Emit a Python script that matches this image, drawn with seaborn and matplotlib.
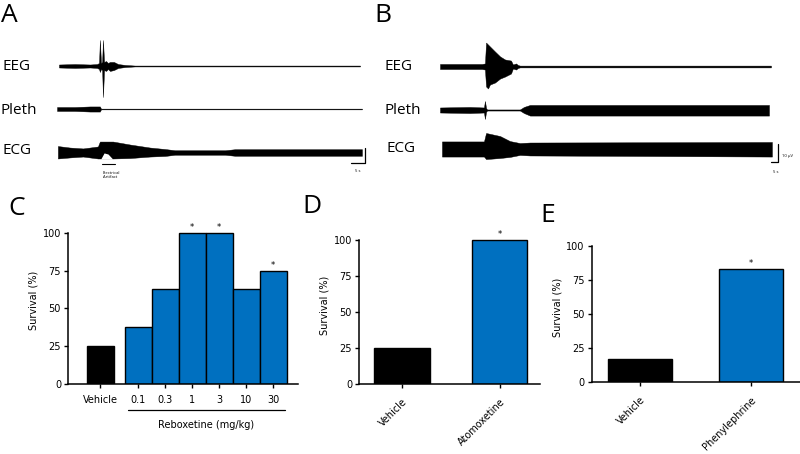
import numpy as np
import pandas as pd
import matplotlib
matplotlib.use('Agg')
import matplotlib.pyplot as plt
import seaborn as sns

# ------------------------------------------------------------
# Data : trace envelopes (time in s, half-amplitude in µV above / below baseline)
# ------------------------------------------------------------
a_eeg_t = [0, 5.7, 11.1, 13.6, 14.3, 14.6, 15.0, 15.4, 15.7, 16.1, 16.8, 17.5, 18.2, 19.6, 21.1, 23.6, 27.1, 107.5]
a_eeg_up = [1, 1.3, 1, 1.3, 2, 17.3, 2, 2.7, 17.3, 2.7, 3.3, 2, 2.7, 2.7, 1.3, 0.7, 0.3, 0.3]
a_eeg_lo = [1, 1.3, 1, 1.3, 2, 4, 2, 2.7, 20.7, 2.7, 3.3, 2, 3.3, 2.7, 1.3, 0.7, 0.3, 0.3]

a_pleth_t = [-0.7, 5.7, 11.1, 14.6, 15.0, 108.2]
a_pleth_up = [1.3, 1.3, 1.7, 1.7, 0.25, 0.25]
a_pleth_lo = [1.3, 1.3, 1.7, 1.7, 0.25, 0.25]

a_ecg_t = [-0.4, 3.9, 8.6, 13.9, 14.6, 19.3, 25.4, 32.5, 37.9, 41.4, 50.4, 59.3, 62.9, 108.2]
a_ecg_up = [4.3, 3.3, 2.7, 4, 7.3, 7.3, 5.3, 3.3, 2.3, 1.5, 1.5, 1.5, 2.2, 2.2]
a_ecg_lo = [4, 3.3, 2.7, 4, 4, 4, 3.7, 2.7, 2.3, 1.5, 1.5, 1.5, 2.2, 2.2]
# white gap left in the ECG by the electrical artifact
a_notch_t = [15.0, 16.1, 17.5, 19.0]
a_notch_top = [-4, -0.3, -1.0, -4]
a_artifact_t = [15.4, 20.0]

b_eeg_t = [0, 14.3, 30, 32.1, 32.9, 34.3, 35.7, 39.3, 42.9, 46.4, 50.7, 52.1, 54.3, 55.7, 57.1, 236.4]
b_eeg_up = [1.4, 1.4, 1.4, 1.7, 13.3, 12.2, 11.1, 8.3, 5.6, 3.9, 3.3, 1.1, 1.7, 0.8, 0.5, 0.5]
b_eeg_lo = [1.4, 1.4, 1.4, 1.7, 11.1, 12.2, 10, 8.9, 6.7, 5.6, 3.9, 1.1, 1.7, 0.8, 0.5, 0.5]

b_pleth_t = [0, 21.4, 31.4, 32.1, 32.9, 33.6, 57.1, 60, 64.3, 234.3, 235]
b_pleth_up = [1.4, 1.7, 1.4, 5, 1.1, 0.3, 0.3, 1.7, 2.8, 2.8, 2.8]
b_pleth_lo = [1.4, 1.7, 1.4, 5, 1.1, 0.3, 0.3, 1.7, 3.1, 3.1, 3.1]

b_ecg_t = [1.4, 31.4, 32.9, 42.9, 50, 57.1, 64.3, 237.1]
b_ecg_up = [4.2, 4.2, 8.9, 7.2, 4.4, 3.3, 3.6, 3.9]
b_ecg_lo = [4.2, 4.2, 5.6, 5.0, 4.4, 3.3, 3.6, 4.2]

# ------------------------------------------------------------
# Data : survival bar charts
# ------------------------------------------------------------
c_labels = ['Vehicle', '0.1', '0.3', '1', '3', '10', '30']
c_group = ['Vehicle', 'Reboxetine', 'Reboxetine', 'Reboxetine', 'Reboxetine', 'Reboxetine', 'Reboxetine']
c_survival = [25, 37.5, 62.5, 100, 100, 62.5, 75]
c_signif = [False, False, False, True, True, False, True]

d_labels = ['Vehicle', 'Atomoxetine']
d_survival = [25, 100]
d_signif = [False, True]

e_labels = ['Vehicle', 'Phenylephrine']
e_survival = [16.7, 83.3]
e_signif = [False, True]

BLUE = '#0070C0'
BAR_FONT = ['DejaVu Sans']

# ------------------------------------------------------------
# Figure
# ------------------------------------------------------------
sns.set_style('ticks')
plt.rcParams['font.family'] = ['Open Sans', 'DejaVu Sans']
plt.rcParams.update({'text.color': 'black', 'axes.labelcolor': 'black',
                     'xtick.color': 'black', 'ytick.color': 'black',
                     'axes.edgecolor': 'black'})

W, H = 800, 454
fig = plt.figure(figsize=(W / 100, H / 100), dpi=100)


def px_axes(x0, y0, x1, y1):
    return fig.add_axes([x0 / W, 1 - y1 / H, (x1 - x0) / W, (y1 - y0) / H])


def px_text(x, y, s, **kw):
    fig.text(x / W, 1 - y / H, s, **kw)


def trace(ax, t, up, lo, base):
    t = np.asarray(t)
    ax.fill_between(t, base + np.asarray(up), base - np.asarray(lo),
                    color='black', linewidth=0.3)


# ---------------- Panel A : traces ----------------
x0a, pxs_a, pxuv_a = 59, 2.8, 1.5
ax_a = px_axes(50, 25, 380, 185)
ax_a.set_xlim((50 - x0a) / pxs_a, (380 - x0a) / pxs_a)
ax_a.set_ylim(0, 160 / pxuv_a)
ax_a.axis('off')
base_a = {k: (185 - cy) / pxuv_a for k, cy in [('eeg', 66), ('pleth', 109), ('ecg', 152.5)]}
trace(ax_a, a_eeg_t, a_eeg_up, a_eeg_lo, base_a['eeg'])
trace(ax_a, a_pleth_t, a_pleth_up, a_pleth_lo, base_a['pleth'])
trace(ax_a, a_ecg_t, a_ecg_up, a_ecg_lo, base_a['ecg'])
ax_a.fill_between(a_notch_t, base_a['ecg'] + np.array(a_notch_top),
                  base_a['ecg'] - 4.4, color='white', linewidth=0)
ax_a.plot(a_artifact_t, [(185 - 164) / pxuv_a] * 2, color='black', lw=0.8)
# scale bar (5 s, 10 µV)
ta, ya = (365 - x0a) / pxs_a, (185 - 163) / pxuv_a
ax_a.plot([ta - 5, ta, ta], [ya, ya, ya + 10], color='black', lw=0.9)

px_text(1, 3, 'A', fontsize=19, va='top')
px_text(2, 67, 'EEG', fontsize=11, va='center')
px_text(1, 110, 'Pleth', fontsize=11, va='center')
px_text(3, 150, 'ECG', fontsize=11, va='center')
px_text(103, 175, 'Electrical\nArtifact', fontsize=3, va='center', linespacing=1.3)
px_text(358, 171, '5 s', fontsize=3, ha='center', va='center')

# ---------------- Panel B : traces ----------------
x0b, pxs_b, pxuv_b = 440, 1.4, 1.8
ax_b = px_axes(430, 25, 800, 185)
ax_b.set_xlim((430 - x0b) / pxs_b, (800 - x0b) / pxs_b)
ax_b.set_ylim(0, 160 / pxuv_b)
ax_b.axis('off')
base_b = {k: (185 - cy) / pxuv_b for k, cy in [('eeg', 66.5), ('pleth', 110), ('ecg', 149)]}
trace(ax_b, b_eeg_t, b_eeg_up, b_eeg_lo, base_b['eeg'])
trace(ax_b, b_pleth_t, b_pleth_up, b_pleth_lo, base_b['pleth'])
trace(ax_b, b_ecg_t, b_ecg_up, b_ecg_lo, base_b['ecg'])
tb, yb = (778 - x0b) / pxs_b, (185 - 162) / pxuv_b
ax_b.plot([tb - 5, tb, tb], [yb, yb, yb + 10], color='black', lw=0.9)

px_text(374, 3, 'B', fontsize=19, va='top')
px_text(385, 67, 'EEG', fontsize=11, va='center')
px_text(385, 111, 'Pleth', fontsize=11, va='center')
px_text(386, 148, 'ECG', fontsize=11, va='center')
px_text(782, 156, '10 µV', fontsize=3, va='center')
px_text(776, 172, '5 s', fontsize=3, ha='center', va='center')


# ---------------- bar chart helpers ----------------
def style_bar_axes(ax):
    ax.set_ylim(0, 110)
    ax.set_yticks([0, 25, 50, 75, 100])
    ax.spines['left'].set_bounds(0, 100)
    for s in ['top', 'right']:
        ax.spines[s].set_visible(False)
    for s in ['left', 'bottom']:
        ax.spines[s].set_linewidth(1.1)
    ax.tick_params(direction='out', length=3, width=1.0, labelsize=7, pad=2)
    ax.set_ylabel('Survival (%)', fontsize=7, labelpad=3, family=BAR_FONT)
    ax.set_xlabel('')
    for lab in ax.get_yticklabels():
        lab.set_family(BAR_FONT)


def stars(ax, xs, vals, sig):
    for x, v, s in zip(xs, vals, sig):
        if s:
            ax.text(x, v + 3.5, '*', ha='center', va='center', fontsize=6, family=BAR_FONT)


# ---------------- Panel C ----------------
c_pos = [0] + [1.4 + i for i in range(len(c_labels) - 1)]
ax_c = px_axes(68, 384 - 151.3 * 1.1, 298, 384)
df_c = pd.DataFrame({'pos': c_pos, 'survival': c_survival, 'group': c_group})
sns.barplot(data=df_c, x='pos', y='survival', hue='group', dodge=False,
            palette={'Vehicle': 'black', 'Reboxetine': BLUE}, native_scale=True,
            width=1.0, saturation=1, edgecolor='black', linewidth=1.0, errorbar=None,
            legend=False, ax=ax_c)
ax_c.set_xlim(-1.2, 7.32)
ax_c.set_xticks(c_pos, c_labels, family=BAR_FONT)
style_bar_axes(ax_c)
ax_c.tick_params(axis='x', pad=5)
stars(ax_c, c_pos, c_survival, c_signif)
ax_c.plot([c_pos[1] - 0.38, c_pos[-1] + 0.45], [-0.156, -0.156], color='black', lw=0.9,
          transform=ax_c.get_xaxis_transform(), clip_on=False)
ax_c.text((c_pos[1] + c_pos[-1]) / 2, -0.245, 'Reboxetine (mg/kg)', fontsize=7,
          ha='center', va='center', family=BAR_FONT, transform=ax_c.get_xaxis_transform())
px_text(8, 196, 'C', fontsize=19, va='top')

# ---------------- Panel D ----------------
ax_d = px_axes(359, 384.3 - 144.3 * 1.1, 540, 384.3)
df_d = pd.DataFrame({'drug': d_labels, 'survival': d_survival})
sns.barplot(data=df_d, x='drug', y='survival', hue='drug', palette=['black', BLUE],
            width=0.57, saturation=1, edgecolor='black', linewidth=1.0, errorbar=None,
            legend=False, ax=ax_d)
ax_d.set_xlim(-0.44, 1.415)
ax_d.set_xticks([0, 1], d_labels, rotation=45, ha='right', rotation_mode='anchor',
                family=BAR_FONT)
style_bar_axes(ax_d)
ax_d.tick_params(axis='x', pad=6)
stars(ax_d, [0, 1], d_survival, d_signif)
px_text(302, 194, 'D', fontsize=19, va='top')

# ---------------- Panel E ----------------
ax_e = px_axes(591.7, 382.3 - 136.6 * 1.1, 800, 382.3)
df_e = pd.DataFrame({'drug': e_labels, 'survival': e_survival})
sns.barplot(data=df_e, x='drug', y='survival', hue='drug', palette=['black', BLUE],
            width=0.58, saturation=1, edgecolor='black', linewidth=1.0, errorbar=None,
            legend=False, ax=ax_e)
ax_e.set_xlim(-0.435, 1.44)
ax_e.set_xticks([0, 1], e_labels, rotation=45, ha='right', rotation_mode='anchor',
                family=BAR_FONT)
style_bar_axes(ax_e)
ax_e.tick_params(axis='x', pad=6)
stars(ax_e, [0, 1], e_survival, e_signif)
px_text(540, 203, 'E', fontsize=19, va='top')

fig.savefig('out.png', dpi=100)
